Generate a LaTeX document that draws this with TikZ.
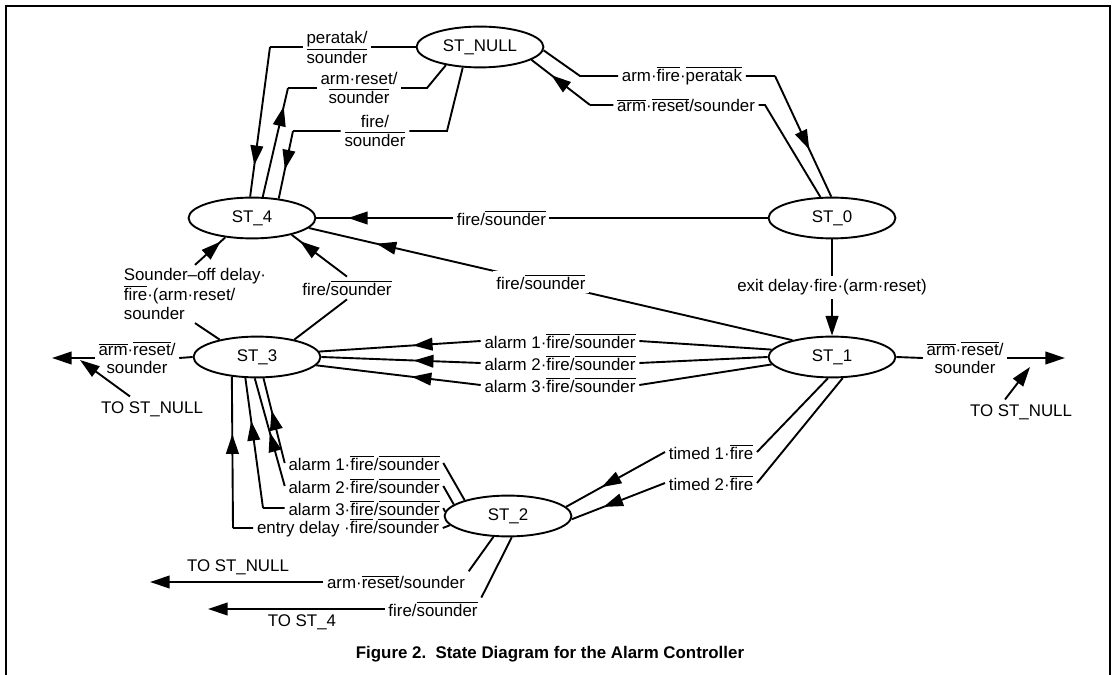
\documentclass[tikz,border=0pt]{standalone}
\usepackage{fontspec}
\setmainfont{Liberation Sans}
\usetikzlibrary{shapes.geometric,arrows.meta,decorations.markings}
\newcommand{\ov}[1]{$\overline{\mbox{#1}}$}

\begin{document}
\begin{tikzpicture}[x=0.025cm,y=-0.025cm,font=\fontsize{12}{13}\selectfont,
  stnode/.style={draw,ellipse,line width=1.35pt,minimum width=3.17cm,
                 minimum height=1.02cm,inner sep=0pt},
  cond/.style={inner sep=2.5pt,align=center},
  conn/.style={line width=1.35pt},
  endarr/.style={conn,-{Triangle[length=14pt,width=9pt]}},
  midarr/.style={conn,postaction={decorate},decoration={markings,
      mark=at position #1 with {\arrow{Triangle[length=14pt,width=9pt]}}}}]
  \useasboundingbox (0,0) rectangle (1116,675);
  \draw[line width=2.1pt] (6,675) -- (6,6) -- (1110,6) -- (1110,675);

  \node[stnode] (null) at (480,47) {ST\_NULL};
  \node[stnode] (s4) at (252,218) {ST\_4};
  \node[stnode] (s0) at (832,218) {ST\_0};
  \node[stnode] (s1) at (832,357) {ST\_1};
  \node[stnode] (s3) at (257,357) {ST\_3};
  \node[stnode] (s2) at (508,516) {ST\_2};

  \node[cond] (lpr) at (337,47) {peratak/\\\ov{sounder}};
  \node[cond] (lar1) at (359,88) {arm·reset/\\\ov{sounder}};
  \node[cond] (lfi) at (375,131) {fire/\\\ov{sounder}};
  \node[cond] (lafp) at (682,76) {arm·\ov{fire}·\ov{peratak}};
  \node[cond] (lars) at (686,105) {\ov{arm}·\ov{reset}/sounder};
  \node[cond] (lfs3) at (347,288) {fire/\ov{sounder}};
  \node[cond,align=left] (lso) at (195,294) {Sounder--off delay·\\\ov{fire}·(arm·reset/\\sounder};
  \node[cond] (la1) at (560,341) {alarm 1·\ov{fire}/\ov{sounder}};
  \node[cond] (la2) at (560,363) {alarm 2·\ov{fire}/\ov{sounder}};
  \node[cond] (la3) at (560,385) {alarm 3·\ov{fire}/\ov{sounder}};
  \node[cond] (lb1) at (364,463) {alarm 1·\ov{fire}/\ov{sounder}};
  \node[cond] (lb2) at (364,486) {alarm 2·\ov{fire}/\ov{sounder}};
  \node[cond] (lb3) at (364,508) {alarm 3·\ov{fire}/\ov{sounder}};
  \node[cond] (le) at (348,528) {entry delay ·\ov{fire}/\ov{sounder}};
  \node[cond] (lt1) at (711,452) {timed 1·\ov{fire}};
  \node[cond] (lt2) at (711,483) {timed 2·\ov{fire}};
  \node[cond] (lar2) at (396,582) {arm·\ov{reset}/sounder};
  \node[cond] (lfr) at (433,609) {fire/\ov{sounder}};
  \node[cond] (lr) at (965,358) {\ov{arm}·\ov{reset}/\\sounder};
  \node[cond] (ll) at (137,358) {\ov{arm}·\ov{reset}/\\sounder};
  \node (tn1) at (238,567) {TO ST\_NULL};
  \node (tn2) at (1021,412) {TO ST\_NULL};
  \node (tn3) at (152,409) {TO ST\_NULL};
  \node (ts4) at (302,622) {TO ST\_4};
  \node[font=\bfseries\fontsize{12}{13}\selectfont] (cap) at (550,654)
    {Figure 2.\ \ State Diagram for the Alarm Controller};

  \coordinate (c1) at (270,47);
  \coordinate (c2) at (288,88);
  \coordinate (c3) at (427,88);
  \coordinate (c4) at (447,131);
  \coordinate (c5) at (293,131);
  \coordinate (c6) at (580,76);
  \coordinate (c7) at (775,76);
  \coordinate (c8) at (765,105);
  \coordinate (c9) at (590,105);
  \coordinate (c10) at (263,508);
  \coordinate (c11) at (233,528);
  \coordinate (o1) at (150,582);
  \coordinate (o2) at (208,609);
  \coordinate (o3) at (1065,358);
  \coordinate (o4) at (52,358);
  \coordinate (p2) at (1030,367);
  \coordinate (p3) at (80,360);

  \draw[conn] (null.west) -- (lpr.east) (lpr.west) -- (c1);
  \draw[midarr=.79] (c1) -- (s4.95);
  \draw[midarr=.83] (s4.63) -- (c2);
  \draw[conn] (c2) -- (lar1.west) (lar1.east) -- (c3) -- (null.208);
  \draw[conn] (null.230) -- (c4) -- (lfi.east) (lfi.west) -- (c5);
  \draw[midarr=.57] (c5) -- (s4.36);

  \draw[conn] (null.-3) -- (c6) -- (lafp.west) (lafp.east) -- (c7);
  \draw[midarr=.61] (c7) -- (s0.92);
  \draw[conn] (s0.119) -- (c8) -- (lars.east) (lars.west) -- (c9);
  \draw[midarr=.66] (c9) -- (null.-14);

  \draw[midarr=.93] (s0.west) -- node[cond,fill=white,pos=.59] (lf0) {fire/\ov{sounder}} (s4.east);
  \draw[midarr=.86] (s1.157) -- node[cond,fill=white,pos=.52] (lf1) {fire/\ov{sounder}} (s4.-10);
  \draw[endarr] (s0.south) -- node[cond,fill=white] (lex) {exit delay·fire·(arm·reset)} (s1.north);

  \draw[conn] (s3.25) -- (lfs3.south);
  \draw[midarr=.85] (lfs3.north) -- (s4.-23);
  \draw[conn] (s3.155) -- (lso.south);
  \draw[midarr=.85] (lso.north) -- (s4.216);

  \draw[conn] (s1.173) -- (la1.east);
  \draw[midarr=.42] (la1.west) -- (s3.5);
  \draw[conn] (s1.west) -- (la2.east);
  \draw[midarr=.42] (la2.west) -- (s3.east);
  \draw[conn] (s1.187) -- (la3.east);
  \draw[midarr=.42] (la3.west) -- (s3.-8);

  \draw[conn] (s2.160) -- (lb1.east);
  \draw[midarr=.62] (lb1.west) -- (s3.287);
  \draw[conn] (s2.168) -- (lb2.east);
  \draw[midarr=.5] (lb2.west) -- (s3.264);
  \draw[conn] (s2.176) -- (lb3.east) (lb3.west) -- (c10);
  \draw[midarr=.67] (c10) -- (s3.241);
  \draw[conn] (s2.189) -- (le.east) (le.west) -- (c11);
  \draw[midarr=.62] (c11) -- (s3.218);

  \draw[conn] (s1.259) -- (lt1.east);
  \draw[midarr=.64] (lt1.west) -- (s2.9);
  \draw[conn] (s1.297) -- (lt2.east);
  \draw[midarr=.66] (lt2.west) -- (s2.-3);

  \draw[conn] (s2.235) -- (lar2.north east);
  \draw[endarr] (lar2.west) -- (o1);
  \draw[conn] (s2.280) -- (lfr.north east);
  \draw[endarr] (lfr.west) -- (o2);
  \draw[conn] (s1.east) -- (lr.west);
  \draw[endarr] (lr.east) -- (o3);
  \draw[endarr] ([xshift=-.4cm]tn2.north) -- (p2);
  \draw[conn] (s3.west) -- (ll.east);
  \draw[endarr] (ll.west) -- (o4);
  \draw[endarr] ([xshift=-.55cm]tn3.north) -- (p3);
\end{tikzpicture}
\end{document}
